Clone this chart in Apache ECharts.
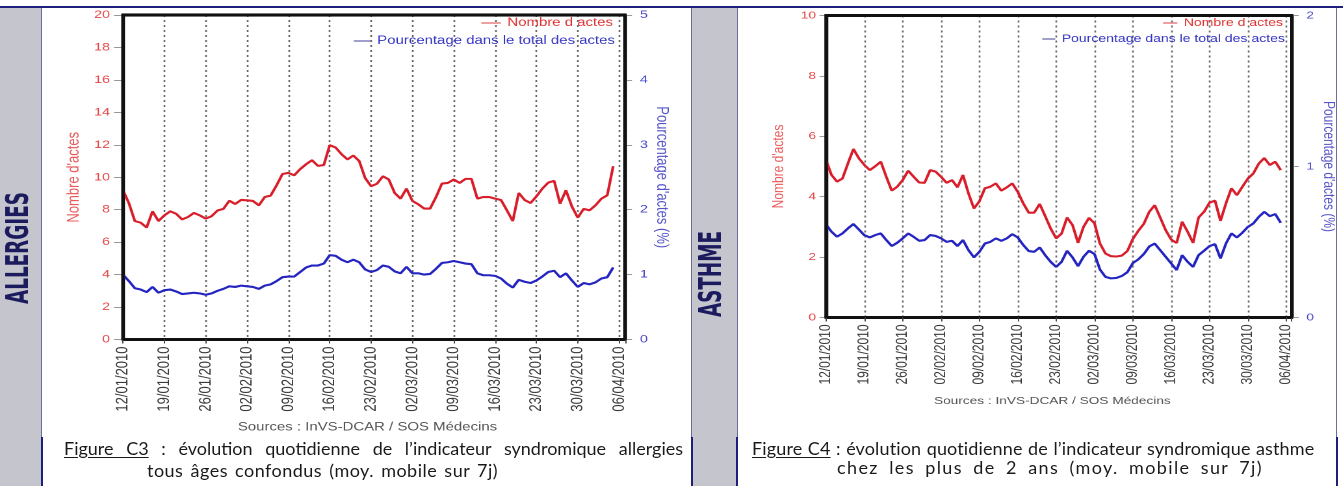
<!DOCTYPE html>
<html><head><meta charset="utf-8">
<script src="https://cdn.jsdelivr.net/npm/echarts@6/dist/echarts.min.js"></script>
<style>
html,body{margin:0;padding:0;background:#fff;}
#page{position:relative;width:1343px;height:486px;overflow:hidden;background:#fff;}
.abs{position:absolute;}
#chart{position:absolute;left:0;top:0;width:1033.08px;height:486px;transform:scaleX(1.3);transform-origin:0 0;z-index:1;}
#frames{position:absolute;left:0;top:0;width:1343px;height:486px;z-index:10;pointer-events:none;}
.cap{position:absolute;z-index:2;font-family:Lato,'Open Sans',sans-serif;font-size:18px;line-height:22px;color:#1a1a1a;white-space:nowrap;}
.cap u{text-decoration:underline;text-underline-offset:2px;}
</style></head><body>
<div id="page">
  <div class="abs" style="left:0;top:6px;width:1343px;height:2px;background:#1e1e7c"></div>
  <div class="abs" style="left:0;top:8px;width:42px;height:478px;background:#c5c5cd"></div>
  <div class="abs" style="left:41px;top:8px;width:1px;height:429px;background:#6c6c9c"></div>
  <div class="abs" style="left:41px;top:437px;width:2px;height:49px;background:#1e1e7c"></div>
  <div class="abs" style="left:692px;top:8px;width:45px;height:478px;background:#c5c5cd"></div>
  <div class="abs" style="left:691px;top:8px;width:1px;height:429px;background:#6c6c9c"></div>
  <div class="abs" style="left:691px;top:437px;width:2px;height:49px;background:#1e1e7c"></div>
  <div class="abs" style="left:737px;top:8px;width:1px;height:429px;background:#6c6c9c"></div>
  <div class="abs" style="left:736px;top:437px;width:2px;height:49px;background:#1e1e7c"></div>
  <div class="abs" style="left:1336px;top:8px;width:1px;height:429px;background:#6c6c9c"></div>
  <div class="abs" style="left:1336px;top:437px;width:2px;height:49px;background:#1e1e7c"></div>
  <div id="chart"></div>
  <svg id="frames" width="1343" height="486" viewBox="0 0 1343 486" xmlns="http://www.w3.org/2000/svg">
    <path d="M123 340 L123 15 L625 15 L625 340" fill="none" stroke="#111" stroke-width="3"/>
    <path d="M826 318 L826 15.5 L1291.7 15.5 L1291.7 318" fill="none" stroke="#111" stroke-width="3"/>
  </svg>
  <div class="cap" id="c1" style="left:64px;top:437px"><u>Figure C3</u> : évolution quotidienne de l’indicateur syndromique allergies</div>
  <div class="cap" id="c2" style="left:147px;top:459px">tous âges confondus (moy. mobile sur 7j)</div>
  <div class="cap" id="c3" style="left:752px;top:437px"><u>Figure C4</u> : évolution quotidienne de l’indicateur syndromique asthme</div>
  <div class="cap" id="c4" style="left:837px;top:456px">chez les plus de 2 ans (moy. mobile sur 7j)</div>
</div>
<script>
// ---------------- data ----------------
const weekLabels = ['12/01/2010','19/01/2010','26/01/2010','02/02/2010','09/02/2010','16/02/2010','23/02/2010',
  '02/03/2010','09/03/2010','16/03/2010','23/03/2010','30/03/2010','06/04/2010'];
const seriesNames = ['Nombre d actes', 'Pourcentage dans le total des actes'];
const sourceText = 'Sources : InVS-DCAR / SOS Médecins';
const panelTitles = ['ALLERGIES', 'ASTHME'];

// daily values from 12/01/2010 to 05/04/2010 (7-day moving average)
const allergiesActes = [9.2, 8.4, 7.3, 7.2, 6.9, 7.9, 7.3, 7.65, 7.9, 7.75,
  7.4, 7.55, 7.8, 7.65, 7.45, 7.6, 7.95, 8.05, 8.55, 8.35,
  8.6, 8.58, 8.54, 8.27, 8.78, 8.87, 9.5, 10.2, 10.27, 10.12,
  10.5, 10.8, 11.05, 10.7, 10.75, 11.98, 11.83, 11.42, 11.1, 11.34,
  11.0, 9.95, 9.45, 9.6, 10.06, 9.86, 9.03, 8.68, 9.3, 8.54,
  8.33, 8.07, 8.07, 8.78, 9.61, 9.65, 9.86, 9.65, 9.9, 9.9,
  8.68, 8.78, 8.78, 8.68, 8.6, 7.96, 7.3, 9.03, 8.6, 8.41,
  8.82, 9.3, 9.67, 9.78, 8.37, 9.2, 8.2, 7.51, 8.05, 7.96,
  8.27, 8.68, 8.89, 10.68];
const allergiesPct = [1.0, 0.9, 0.79, 0.77, 0.73, 0.81, 0.72, 0.76, 0.77, 0.74,
  0.70, 0.71, 0.72, 0.71, 0.69, 0.71, 0.75, 0.78, 0.82, 0.81,
  0.83, 0.82, 0.81, 0.78, 0.83, 0.85, 0.9, 0.96, 0.97, 0.97,
  1.04, 1.11, 1.14, 1.14, 1.17, 1.30, 1.29, 1.23, 1.19, 1.23,
  1.19, 1.08, 1.04, 1.07, 1.14, 1.12, 1.05, 1.02, 1.12, 1.02,
  1.02, 1.0, 1.01, 1.09, 1.18, 1.19, 1.21, 1.19, 1.17, 1.16,
  1.02, 0.99, 0.99, 0.98, 0.94, 0.86, 0.80, 0.92, 0.89, 0.87,
  0.91, 0.97, 1.04, 1.06, 0.96, 1.02, 0.91, 0.81, 0.87, 0.85,
  0.88, 0.94, 0.96, 1.11];
const asthmeActes = [5.21, 4.72, 4.5, 4.6, 5.1, 5.58, 5.27, 5.05, 4.88, 5.01,
  5.16, 4.66, 4.2, 4.33, 4.55, 4.86, 4.66, 4.47, 4.46, 4.88,
  4.83, 4.66, 4.46, 4.55, 4.31, 4.72, 4.11, 3.61, 3.85, 4.28,
  4.33, 4.44, 4.2, 4.31, 4.44, 4.16, 3.78, 3.47, 3.47, 3.76,
  3.36, 2.95, 2.62, 2.78, 3.31, 3.06, 2.47, 3.0, 3.3, 3.12,
  2.45, 2.12, 2.03, 2.02, 2.05, 2.2, 2.6, 2.87, 3.1, 3.5,
  3.72, 3.31, 2.89, 2.58, 2.47, 3.17, 2.84, 2.47, 3.31, 3.5,
  3.8, 3.87, 3.2, 3.78, 4.28, 4.05, 4.33, 4.6, 4.77, 5.1,
  5.28, 5.05, 5.16, 4.88];
const asthmePct = [0.617, 0.568, 0.535, 0.557, 0.59, 0.619, 0.583, 0.545, 0.53, 0.546,
  0.557, 0.513, 0.473, 0.495, 0.524, 0.557, 0.534, 0.508, 0.513, 0.546,
  0.54, 0.524, 0.501, 0.508, 0.473, 0.513, 0.446, 0.398, 0.435, 0.49,
  0.501, 0.524, 0.508, 0.524, 0.552, 0.53, 0.48, 0.44, 0.435, 0.464,
  0.413, 0.369, 0.335, 0.369, 0.442, 0.398, 0.34, 0.402, 0.442, 0.42,
  0.318, 0.269, 0.259, 0.262, 0.275, 0.3, 0.36, 0.385, 0.42, 0.47,
  0.49, 0.446, 0.402, 0.358, 0.314, 0.413, 0.369, 0.335, 0.413, 0.442,
  0.473, 0.486, 0.391, 0.49, 0.557, 0.53, 0.562, 0.6, 0.623, 0.667,
  0.7, 0.671, 0.685, 0.627];

// ---------------- styling ----------------
const SX = 1.3;                 // horizontal stretch of the chart drawing
const W = 1343 / SX;            // internal width
const FONT = "'Liberation Sans', Arial, sans-serif";
const RED = '#d81e2a', BLUE = '#2424c0';
const RED_TXT = '#e34848', BLUE_TXT = '#4848c6';
const X_MAX = 85;
const GRIDS = [
  { left: 123 / SX, top: 15, width: 502 / SX, height: 324.5 },
  { left: 826 / SX, top: 15.5, width: 465.7 / SX, height: 302 }
];

function pts(arr) { return arr.map((v, i) => [i, v]); }

function mkX(gi, fs, nameGap) {
  return {
    type: 'value', gridIndex: gi, min: 0, max: X_MAX, interval: 7,
    name: sourceText, nameLocation: 'middle', nameGap: nameGap, nameMoveOverlap: false,
    nameTextStyle: { color: '#555', fontSize: fs - 1.5, fontFamily: FONT, padding: [0, 10, 0, 0] },
    axisLine: { show: true, onZero: false, lineStyle: { color: '#111', width: 3 } },
    axisTick: { show: true, length: 4, lineStyle: { color: '#444' } },
    axisLabel: { rotate: 90, margin: 7, fontSize: fs, color: '#3a3a3a', fontFamily: FONT,
      formatter: v => (v % 7 === 0 && weekLabels[v / 7]) ? weekLabels[v / 7] : '' },
    splitLine: { show: true, lineStyle: { type: [2, 3], color: '#666', width: 1.3 } }
  };
}
function mkY(gi, pos, max, interval, name, lblColor, nameColor, fs, nameFs, nameGap, margin, tickLen, nameRotate) {
  const o = {
    type: 'value', gridIndex: gi, position: pos, min: 0, max: max, interval: interval,
    name: name, nameLocation: 'middle', nameGap: nameGap, nameMoveOverlap: false,
    nameTextStyle: { color: nameColor, fontSize: nameFs, fontFamily: FONT },
    axisLine: { show: true, onZero: false, lineStyle: { color: '#161616', width: 2.3 } },
    axisTick: { show: true, length: tickLen, lineStyle: { color: '#999' } },
    axisLabel: { margin: margin, fontSize: fs, color: lblColor, fontFamily: FONT },
    splitLine: { show: false }
  };
  if (nameRotate !== undefined) o.nameRotate = nameRotate;
  return o;
}
function mkLegend(name, rightEdge, top, color, iconColor, fs, iw) {
  return {
    data: [name], right: W - rightEdge, top: top, padding: 0, itemGap: 0,
    selectedMode: false, icon: 'rect', itemWidth: iw, itemHeight: 1.5,
    itemStyle: { color: iconColor },
    textStyle: { color: color, fontSize: fs, fontFamily: FONT }
  };
}
function mkLine(name, xi, yi, data, color) {
  return { type: 'line', name: name, xAxisIndex: xi, yAxisIndex: yi, data: pts(data),
    showSymbol: false, symbol: 'none', smooth: false, animation: false, z: 2,
    lineStyle: { color: color, width: 2.1 }, itemStyle: { color: color } };
}

const TITLE_FONT = "bold 24px 'Liberation Sans Narrow', 'DejaVu Sans Condensed', Arial, sans-serif";
const frameRects = GRIDS.map((g, i) => ({
  type: 'polyline', z: 100, silent: true,
  shape: { points: [[g.left, g.top + g.height], [g.left, g.top], [g.left + g.width, g.top], [g.left + g.width, g.top + g.height]] },
  style: { stroke: '#111', lineWidth: 2.3, fill: null }
}));

const chart = echarts.init(document.getElementById('chart'), null, { renderer: 'canvas', devicePixelRatio: 2 });
chart.setOption({
  animation: false,
  backgroundColor: 'transparent',
  grid: GRIDS.map(g => Object.assign({ show: false, outerBoundsMode: 'none', containLabel: false }, g)),
  xAxis: [ mkX(0, 13, 82), mkX(1, 12, 78) ],
  yAxis: [
    mkY(0, 'left', 20, 2, "Nombre d'actes", RED_TXT, '#e85858', 11, 13, 31, 10, 7),
    mkY(0, 'right', 5, 1, "Pourcentage d'actes (%)", BLUE_TXT, '#5454c8', 11, 13, 22, 11.5, 5.4, -90),
    mkY(1, 'left', 10, 2, "Nombre d'actes", RED_TXT, '#e85858', 10.5, 12, 30, 7.7, 5),
    mkY(1, 'right', 2, 1, "Pourcentage d'actes (%)", BLUE_TXT, '#5454c8', 10.5, 12, 22, 11.3, 5.4, -90)
  ],
  legend: [
    mkLegend(seriesNames[0], 613 / SX, 17, '#e03434', '#e88080', 11.5, 15),
    mkLegend(seriesNames[1], 615 / SX, 35, '#3434c4', '#8080b8', 11.5, 13),
    mkLegend(seriesNames[0], 1283 / SX, 17.5, '#e03434', '#e88080', 10.8, 11),
    mkLegend(seriesNames[1], 1285 / SX, 33.5, '#3434c4', '#8080b8', 10.8, 10)
  ],
  graphic: [
    { type: 'text', x: 20 / SX, y: 248, rotation: Math.PI / 2, scaleX: 0.85,
      style: { text: panelTitles[0], fill: '#1b1b5e', font: TITLE_FONT, align: 'center', verticalAlign: 'middle' } },
    { type: 'text', x: 713 / SX, y: 274, rotation: Math.PI / 2, scaleX: 0.85,
      style: { text: panelTitles[1], fill: '#1b1b5e', font: TITLE_FONT, align: 'center', verticalAlign: 'middle' } }
  ].concat(frameRects),
  series: [
    mkLine(seriesNames[1], 0, 1, allergiesPct, BLUE),
    mkLine(seriesNames[0], 0, 0, allergiesActes, RED),
    mkLine(seriesNames[1], 1, 3, asthmePct, BLUE),
    mkLine(seriesNames[0], 1, 2, asthmeActes, RED)
  ]
});

// captions: first line of C3 word-justified, others spread gently
function reset(el) {
  el.style.display = 'inline-block'; el.style.width = 'auto'; el.style.transform = 'none';
  el.style.whiteSpace = 'nowrap'; el.style.textAlign = 'left'; el.style.textAlignLast = 'auto';
  el.style.letterSpacing = 'normal'; el.style.wordSpacing = 'normal';
  return el.getBoundingClientRect().width;
}
function fitWords(el, target) {
  const w = reset(el);
  if (w > target) {
    el.style.transformOrigin = '0 0'; el.style.transform = 'scaleX(' + (target / w) + ')';
  } else {
    el.style.display = 'block'; el.style.whiteSpace = 'normal'; el.style.width = target + 'px';
    el.style.textAlign = 'justify'; el.style.textAlignLast = 'justify';
  }
}
function fitMixed(el, target) {
  const w = reset(el);
  if (w > target) {
    el.style.transformOrigin = '0 0'; el.style.transform = 'scaleX(' + (target / w) + ')';
  } else {
    const txt = el.textContent;
    const n = txt.length, spaces = (txt.match(/ /g) || []).length || 1;
    const extra = target - w;
    el.style.letterSpacing = (0.6 * extra / n) + 'px';
    el.style.wordSpacing = (0.4 * extra / spaces) + 'px';
  }
}
function fitAll() {
  fitWords(document.getElementById('c1'), 619);
  fitMixed(document.getElementById('c2'), 351);
  fitMixed(document.getElementById('c3'), 563);
  fitMixed(document.getElementById('c4'), 426);
}
fitAll();
if (document.fonts && document.fonts.ready) document.fonts.ready.then(fitAll);
</script>
</body></html>
